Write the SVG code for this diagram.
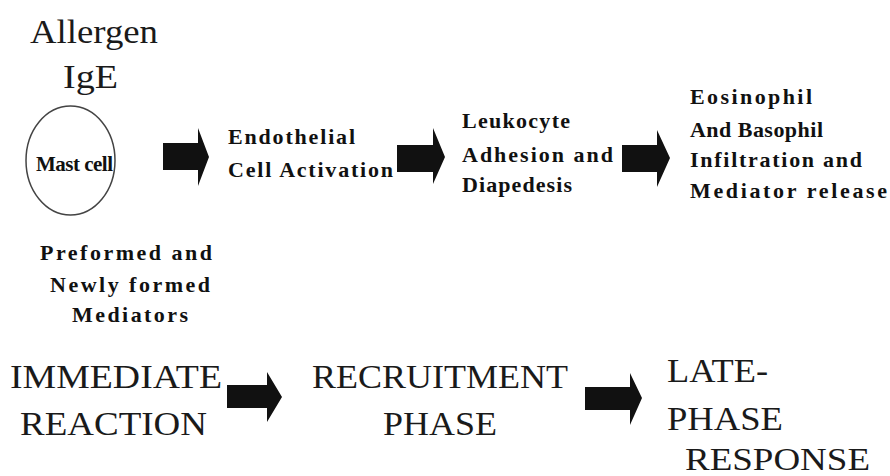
<svg xmlns="http://www.w3.org/2000/svg" width="890" height="476" viewBox="0 0 890 476">
<style>
.lt{font-family:"Liberation Serif","Times New Roman",serif;font-size:34px;fill:#1a1a1a;}
.bd{font-family:"Liberation Serif","Times New Roman",serif;font-size:22px;font-weight:bold;fill:#111;}
.mc{font-size:21px;}
.ar{fill:#111;stroke:none;}
</style>
<rect width="890" height="476" fill="#fff"/>
<g id="allergen">
<text class="lt" x="30" y="43" textLength="128" lengthAdjust="spacingAndGlyphs">Allergen</text>
<text class="lt" x="63" y="88" textLength="55" lengthAdjust="spacingAndGlyphs">IgE</text>
</g>
<g id="mast-cell">
<ellipse cx="70.5" cy="160.5" rx="44.5" ry="54.5" fill="none" stroke="#444" stroke-width="1.5"/>
<text class="bd mc" x="36" y="171" textLength="77" lengthAdjust="spacing">Mast cell</text>
</g>
<g id="mediators">
<text class="bd" x="40" y="260" textLength="172" lengthAdjust="spacing">Preformed and</text>
<text class="bd" x="50" y="292" textLength="160" lengthAdjust="spacing">Newly formed</text>
<text class="bd" x="72" y="322" textLength="116" lengthAdjust="spacing">Mediators</text>
</g>
<g id="endothelial">
<text class="bd" x="228" y="144" textLength="127" lengthAdjust="spacing">Endothelial</text>
<text class="bd" x="228" y="177" textLength="165" lengthAdjust="spacing">Cell Activation</text>
</g>
<g id="leukocyte">
<text class="bd" x="462" y="128" textLength="108" lengthAdjust="spacing">Leukocyte</text>
<text class="bd" x="462" y="162" textLength="151" lengthAdjust="spacing">Adhesion and</text>
<text class="bd" x="462" y="192" textLength="110" lengthAdjust="spacing">Diapedesis</text>
</g>
<g id="eosinophil">
<text class="bd" x="690" y="104" textLength="122" lengthAdjust="spacing">Eosinophil</text>
<text class="bd" x="690" y="137" textLength="133" lengthAdjust="spacing">And Basophil</text>
<text class="bd" x="690" y="167" textLength="172" lengthAdjust="spacing">Infiltration and</text>
<text class="bd" x="690" y="198" textLength="197" lengthAdjust="spacing">Mediator release</text>
</g>
<g id="immediate">
<text class="lt" x="10" y="388" textLength="212" lengthAdjust="spacingAndGlyphs">IMMEDIATE</text>
<text class="lt" x="20" y="435" textLength="187" lengthAdjust="spacingAndGlyphs">REACTION</text>
</g>
<g id="recruitment">
<text class="lt" x="312" y="388" textLength="256" lengthAdjust="spacingAndGlyphs">RECRUITMENT</text>
<text class="lt" x="383" y="435" textLength="114" lengthAdjust="spacingAndGlyphs">PHASE</text>
</g>
<g id="late-phase">
<text class="lt" x="667" y="382" textLength="101" lengthAdjust="spacingAndGlyphs">LATE-</text>
<text class="lt" x="667" y="430" textLength="116" lengthAdjust="spacingAndGlyphs">PHASE</text>
<text class="lt" x="685" y="470" style="font-size:31px" textLength="185" lengthAdjust="spacingAndGlyphs">RESPONSE</text>
</g>
<g id="connectors">
<path class="ar" d="M163,143 H198 V128 L209,157 L198,186 V170 H163 Z"/>
<path class="ar" d="M397,145 H433 V128 L445,157 L433,184 V172 H397 Z"/>
<path class="ar" d="M622,145 H657 V130 L670,158 L657,187 V172 H622 Z"/>
<path class="ar" d="M227,385 H267 V372 L282,397 L267,422 V408 H227 Z"/>
<path class="ar" d="M585,387 H630 V373 L642,398 L630,425 V410 H585 Z"/>
</g>
</svg>
